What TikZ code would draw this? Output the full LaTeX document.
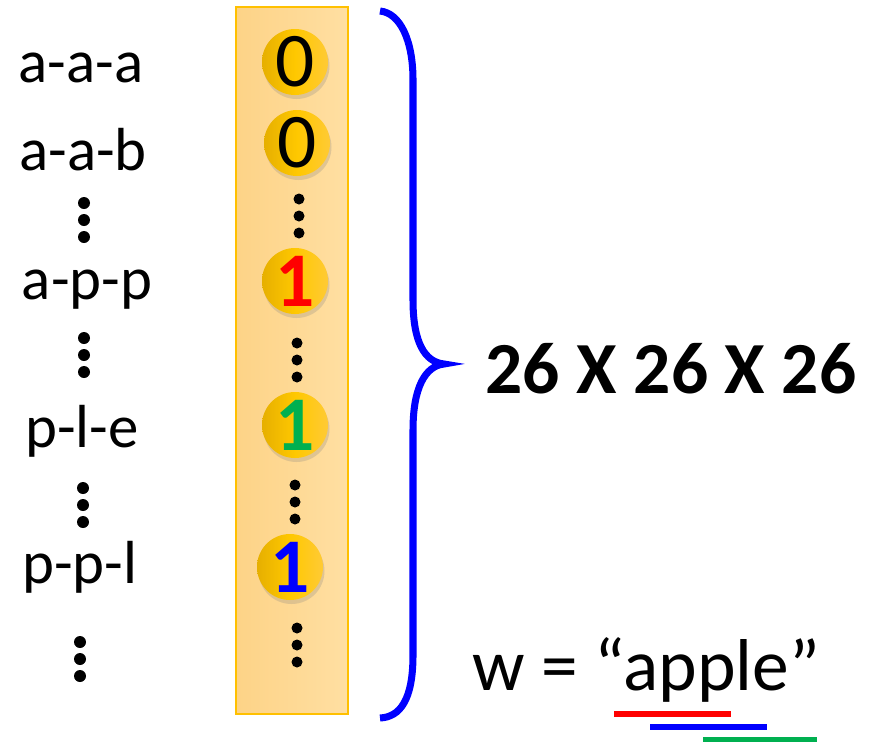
\documentclass[tikz,border=0pt]{standalone}
\usepackage{fontspec}
\setmainfont{Carlito}
\usetikzlibrary{shadows}
\pgfdeclarelayer{edgelayer}
\pgfdeclarelayer{nodelayer}
\pgfsetlayers{edgelayer,nodelayer,main}
\definecolor{stripL}{HTML}{FDD387}
\definecolor{stripR}{HTML}{FFDFA2}
\definecolor{stripB}{HTML}{FFC000}
\definecolor{coinL}{HTML}{E6AF00}
\definecolor{coinM}{HTML}{FFC800}
\definecolor{coinR}{HTML}{FFCA35}
\definecolor{hitred}{HTML}{FF0000}
\definecolor{hitgreen}{HTML}{00B050}
\definecolor{hitblue}{HTML}{0000FF}
\tikzstyle{strip}=[left color=stripL,right color=stripR,draw=stripB,line width=0.8 pt]
\tikzstyle{coin}=[circle,left color=coinL,right color=coinR,middle color=coinM,inner sep=0pt,minimum size=0.66cm,drop shadow={shadow xshift=0.015cm,shadow yshift=-0.04cm,opacity=0.25},font=\fontsize{22}{22}\selectfont]
\tikzstyle{hit}=[coin,font=\fontsize{22}{22}\selectfont\bfseries]
\tikzstyle{blackdot}=[circle,fill=black,inner sep=0pt,minimum size=0.11cm]
\tikzstyle{bigdot}=[circle,fill=black,inner sep=0pt,minimum size=0.12cm]
\tikzstyle{triple}=[anchor=base,inner sep=0pt,font=\fontsize{17.3}{20}\selectfont]
\tikzstyle{big}=[anchor=base,inner sep=0pt,font=\fontsize{20.9}{24}\selectfont]
\tikzstyle{brace}=[draw=hitblue,line width=2 pt]
\tikzstyle{under}=[line width=1.7 pt]

\begin{document}
\begin{tikzpicture}
	\useasboundingbox (0.000,0.000) rectangle (8.750,7.410);
	\begin{pgfonlayer}{edgelayer}
		\draw [style=strip] (2.360,0.270) rectangle (3.480,7.340);
		\draw [style=brace] (3.800,7.300) .. controls (4.000,7.280) and (4.130,7.010) .. (4.130,6.610)
			-- (4.130,4.410) .. controls (4.130,3.980) and (4.250,3.790) .. (4.440,3.770)
			.. controls (4.250,3.750) and (4.130,3.530) .. (4.130,3.110)
			-- (4.130,0.860) .. controls (4.130,0.410) and (4.000,0.240) .. (3.800,0.230);
		\draw [style=under, draw=hitred] (6.140,0.270) -- (7.310,0.270);
		\draw [style=under, draw=hitblue] (6.500,0.140) -- (7.670,0.140);
		\draw [style=under, draw=hitgreen] (7.030,0.010) -- (8.170,0.010);
	\end{pgfonlayer}
	\begin{pgfonlayer}{nodelayer}
		\node [style=coin] (0) at (2.950,6.790) {0};
		\node [style=coin] (1) at (2.970,5.980) {0};
		\node [style=hit, text=hitred] (2) at (2.950,4.600) {1};
		\node [style=hit, text=hitgreen] (3) at (2.950,3.160) {1};
		\node [style=hit, text=hitblue] (4) at (2.900,1.740) {1};
		\node [style=blackdot] (5) at (2.990,5.420) {};
		\node [style=blackdot] (6) at (2.990,5.250) {};
		\node [style=blackdot] (7) at (2.990,5.080) {};
		\node [style=blackdot] (8) at (2.970,3.980) {};
		\node [style=blackdot] (9) at (2.970,3.810) {};
		\node [style=blackdot] (10) at (2.970,3.640) {};
		\node [style=blackdot] (11) at (2.950,2.560) {};
		\node [style=blackdot] (12) at (2.950,2.390) {};
		\node [style=blackdot] (13) at (2.950,2.220) {};
		\node [style=blackdot] (14) at (2.970,1.130) {};
		\node [style=blackdot] (15) at (2.970,0.960) {};
		\node [style=blackdot] (16) at (2.970,0.790) {};
		\node [style=triple] (17) at (0.810,6.590) {a-a-a};
		\node [style=triple] (18) at (0.830,5.710) {a-a-b};
		\node [style=triple] (19) at (0.870,4.420) {a-p-p};
		\node [style=triple] (20) at (0.820,2.940) {p-l-e};
		\node [style=triple] (21) at (0.800,1.580) {p-p-l};
		\node [style=bigdot] (22) at (0.840,5.380) {};
		\node [style=bigdot] (23) at (0.840,5.210) {};
		\node [style=bigdot] (24) at (0.840,5.040) {};
		\node [style=bigdot] (25) at (0.840,4.030) {};
		\node [style=bigdot] (26) at (0.840,3.860) {};
		\node [style=bigdot] (27) at (0.840,3.690) {};
		\node [style=bigdot] (28) at (0.830,2.530) {};
		\node [style=bigdot] (29) at (0.830,2.360) {};
		\node [style=bigdot] (30) at (0.830,2.190) {};
		\node [style=bigdot] (31) at (0.800,0.990) {};
		\node [style=bigdot] (32) at (0.800,0.820) {};
		\node [style=bigdot] (33) at (0.800,0.650) {};
		\node [style=big, font=\fontsize{20.9}{24}\selectfont\bfseries] (34) at (6.710,3.480) {26 X 26 X 26};
		\node [style=big] (35) at (6.460,0.510) {w = “apple”};
	\end{pgfonlayer}
\end{tikzpicture}
\end{document}
